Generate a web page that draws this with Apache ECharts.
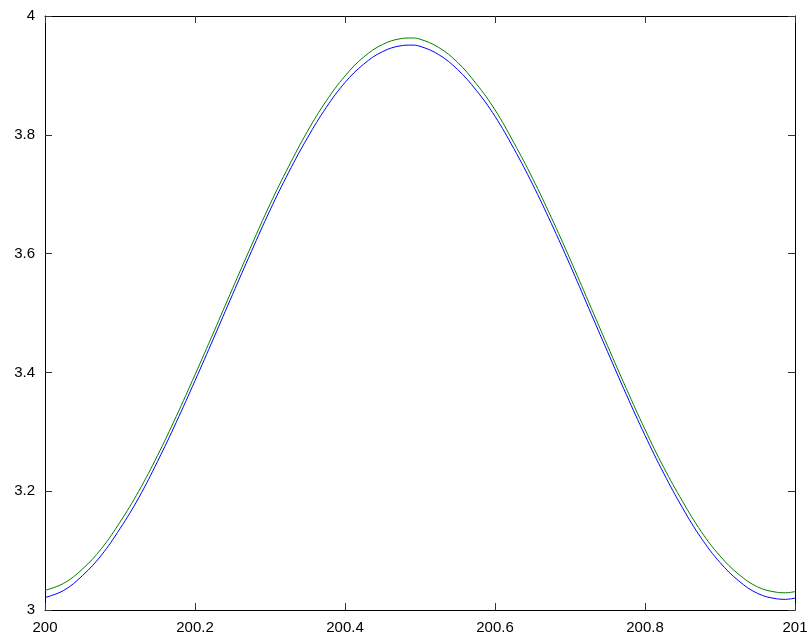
<!DOCTYPE html>
<html>
<head>
<meta charset="utf-8">
<script src="https://cdn.jsdelivr.net/npm/echarts@6/dist/echarts.min.js"></script>
<style>html,body{margin:0;padding:0;background:#fff}#c{width:811px;height:644px}</style>
</head>
<body>
<div id="c"></div>
<script>
var xValues = [200,200.025,200.05,200.075,200.1,200.125,200.15,200.175,200.2,200.225,200.25,200.275,200.3,200.325,200.35,200.375,200.4,200.425,200.45,200.475,200.4875,200.5,200.525,200.55,200.575,200.6,200.625,200.65,200.675,200.7,200.725,200.75,200.775,200.8,200.825,200.85,200.875,200.9,200.925,200.95,200.975,200.9875,201];
var blueValues = [3.021,3.033,3.058,3.092,3.137,3.189,3.250,3.316,3.386,3.458,3.531,3.603,3.673,3.737,3.795,3.846,3.888,3.919,3.940,3.950,3.951,3.949,3.935,3.910,3.875,3.831,3.777,3.717,3.651,3.581,3.508,3.435,3.363,3.294,3.230,3.172,3.121,3.080,3.049,3.028,3.019,3.018,3.020];
var greenValues = [3.033,3.045,3.069,3.103,3.148,3.200,3.260,3.326,3.396,3.468,3.541,3.613,3.683,3.747,3.806,3.857,3.899,3.931,3.952,3.962,3.963,3.961,3.947,3.922,3.886,3.842,3.787,3.727,3.661,3.591,3.518,3.445,3.373,3.304,3.240,3.183,3.132,3.091,3.060,3.039,3.030,3.029,3.031];
var xTicks = [200,200.2,200.4,200.6,200.8,201];
var yTicks = [3,3.2,3.4,3.6,3.8,4];

function pairs(ys){ return xValues.map(function(x,i){ return [x, ys[i]]; }); }
function fmt(v){ return String(Number(v.toFixed(1))); }

var font = {fontFamily:'Liberation Sans, Arial, sans-serif', fontSize:15, color:'#000'};
var axisLine = {show:true, onZero:false, lineStyle:{color:'#000', width:1}};
var tick = {show:true, inside:true, length:7, lineStyle:{color:'#333', width:1}};

var chart = echarts.init(document.getElementById('c'), null, {renderer:'canvas'});
chart.setOption({
  animation:false,
  backgroundColor:'#fff',
  grid:{left:45, right:16, top:16, bottom:34, containLabel:false},
  xAxis:[
    {type:'value', position:'bottom', min:xTicks[0], max:xTicks[xTicks.length-1], interval:0.2,
     axisLine:axisLine, axisTick:tick, splitLine:{show:false},
     axisLabel:Object.assign({margin:10, formatter:fmt}, font)},
    {type:'value', position:'top', min:xTicks[0], max:xTicks[xTicks.length-1], interval:0.2,
     axisLine:axisLine, axisTick:tick, splitLine:{show:false}, axisLabel:{show:false}}
  ],
  yAxis:[
    {type:'value', position:'left', min:yTicks[0], max:yTicks[yTicks.length-1], interval:0.2,
     axisLine:axisLine, axisTick:tick, splitLine:{show:false},
     axisLabel:Object.assign({margin:10, formatter:fmt}, font)},
    {type:'value', position:'right', min:yTicks[0], max:yTicks[yTicks.length-1], interval:0.2,
     axisLine:axisLine, axisTick:tick, splitLine:{show:false}, axisLabel:{show:false}}
  ],
  series:[
    {type:'line', data:pairs(blueValues), xAxisIndex:0, yAxisIndex:0, smooth:0.4, showSymbol:false,
     lineStyle:{color:'#0000ff', width:1}, itemStyle:{color:'#0000ff'}},
    {type:'line', data:pairs(greenValues), xAxisIndex:0, yAxisIndex:0, smooth:0.4, showSymbol:false,
     lineStyle:{color:'#008000', width:1}, itemStyle:{color:'#008000'}}
  ]
});
</script>
</body>
</html>
